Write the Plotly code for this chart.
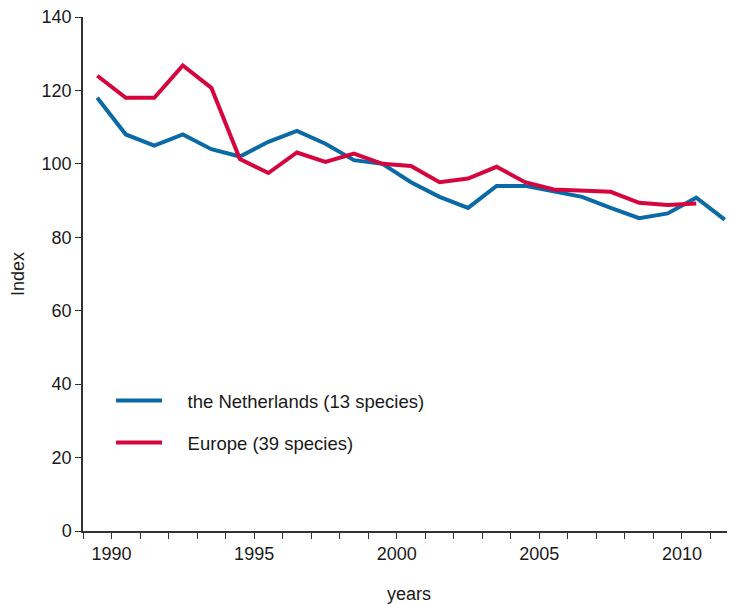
import plotly.graph_objects as go

years_nl = list(range(1990, 2013))
nl = [118, 108, 105, 108, 104, 102, 106, 109, 105.5, 101, 100, 95, 91, 88, 94, 94,
      92.5, 91, 88, 85.2, 86.5, 90.8, 84.8]
years_eu = list(range(1990, 2012))
eu = [124, 118, 118, 126.8, 120.7, 101.3, 97.5, 103.1, 100.5, 102.8, 100, 99.4, 95,
      96, 99.2, 95, 93, 92.7, 92.4, 89.4, 88.8, 89.2]
tick_years = list(range(1989, 2012))

# values are plotted in the middle of each year interval
x_nl = [y - 0.5 for y in years_nl]
x_eu = [y - 0.5 for y in years_eu]

pad = "\u00a0" * 4
fig = go.Figure()
fig.add_trace(go.Scatter(x=x_nl, y=nl, mode="lines", name=pad + "the Netherlands (13 species)",
                         line=dict(color="#0a6aa6", width=4), legendgroup="a"))
fig.add_trace(go.Scatter(x=x_eu, y=eu, mode="lines", name=pad + "Europe (39 species)",
                         line=dict(color="#d5063f", width=4), legendgroup="b"))

font = "Liberation Sans, Arial, sans-serif"
fig.update_layout(
    width=727, height=596,
    margin=dict(l=75, r=0, t=9, b=73),
    paper_bgcolor="white", plot_bgcolor="white",
    font=dict(family=font, size=18, color="#1a1a1a"),
    showlegend=True,
    legend=dict(x=0.043, y=0.29, xanchor="left", yanchor="top",
                font=dict(size=18.5, family=font, color="#1a1a1a"),
                tracegroupgap=15, bgcolor="rgba(0,0,0,0)", itemwidth=46),
    xaxis=dict(range=[1989, 2011.86], automargin=False,
               showgrid=False, zeroline=False, showline=True, linecolor="#333",
               linewidth=1.5, ticks="outside", ticklen=6, tickcolor="#333",
               tickmode="array", tickvals=tick_years,
               ticktext=[str(y) if y % 5 == 0 else "" for y in tick_years],
               tickangle=0, tickfont=dict(size=18), ticklabeloverflow="allow",
               title=dict(text="years", standoff=24, font=dict(size=18))),
    yaxis=dict(range=[0, 140], automargin=False, tickvals=[0, 20, 40, 60, 80, 100, 120, 140],
               showgrid=False, zeroline=False, showline=True, linecolor="#333",
               linewidth=1.5, ticks="outside", ticklen=6, tickcolor="#333",
               tickfont=dict(size=18), ticklabeloverflow="allow",
               title=dict(text="Index", standoff=17, font=dict(size=18))),
)

fig.write_html("out.html")
